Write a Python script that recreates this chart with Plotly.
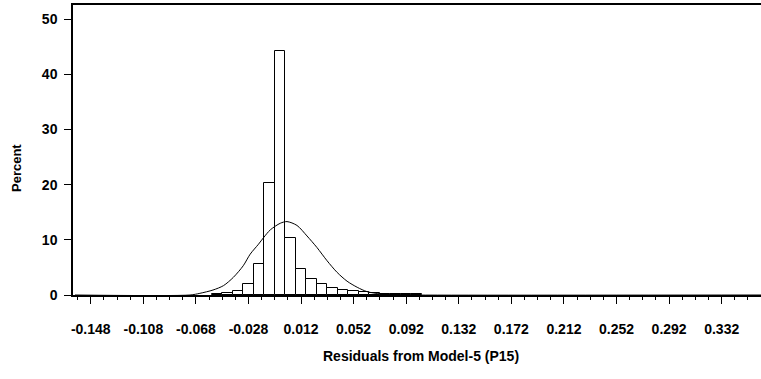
import plotly.graph_objects as go

# Histogram bins (midpoints) and percentages
bin_mid = [-0.052, -0.044, -0.036, -0.028, -0.020, -0.012, -0.004, 0.004, 0.012,
           0.020, 0.028, 0.036, 0.044, 0.052, 0.060, 0.068, 0.076, 0.084, 0.092, 0.100]
pct = [0.1, 0.3, 0.8, 2.0, 5.7, 20.3, 44.2, 10.4, 4.7,
       2.9, 2.0, 1.3, 0.9, 0.7, 0.5, 0.3, 0.2, 0.2, 0.2, 0.2]
bin_width = 0.008

# Fitted normal curve
curve_x = [-0.160, -0.0725, -0.065, -0.055, -0.047, -0.0395, -0.032, -0.0267, -0.0204,
           -0.0165, -0.0114, -0.0038, 0.0013, 0.0089, 0.0165, 0.0241, 0.0318,
           0.0394, 0.0470, 0.0547, 0.0623, 0.0725, 0.080, 0.090, 0.362]
curve_y = [0, 0, 0.3, 0.9, 1.7, 3.2, 5.3, 7.4, 9.2,
           10.4, 11.8, 13.0, 13.3, 12.6, 10.7, 8.6, 6.2,
           4.1, 2.5, 1.4, 0.6, 0.2, 0.05, 0, 0]

x_ticks = [-0.148, -0.108, -0.068, -0.028, 0.012, 0.052, 0.092, 0.132,
           0.172, 0.212, 0.252, 0.292, 0.332]
x_tick_text = ["-0.148", "-0.108", "-0.068", "-0.028", "0.012", "0.052", "0.092",
               "0.132", "0.172", "0.212", "0.252", "0.292", "0.332"]
y_ticks = [0, 10, 20, 30, 40, 50]

FONT = "Liberation Sans, Arial, sans-serif"

fig = go.Figure()
fig.add_trace(go.Bar(
    x=bin_mid, y=pct, width=bin_width,
    marker=dict(color="white", line=dict(color="black", width=1)),
    hoverinfo="x+y", showlegend=False,
))
fig.add_trace(go.Scatter(
    x=curve_x, y=curve_y, mode="lines",
    line=dict(color="black", width=1, shape="spline", smoothing=0.8),
    showlegend=False,
))

fig.update_layout(
    width=761, height=379,
    margin=dict(l=73, r=0, t=5, b=84),
    paper_bgcolor="white", plot_bgcolor="white",
    bargap=0,
    font=dict(family=FONT, size=14, color="black", weight="bold"),
    xaxis=dict(
        range=[-0.1615, 0.3619],
        tickmode="array", tickvals=x_ticks, ticktext=x_tick_text,
        ticks="outside", ticklen=7, tickwidth=1, tickcolor="black",
        minor=dict(tickmode="linear", tick0=-0.148, dtick=0.01, ticks="outside",
                   ticklen=3, tickwidth=1, tickcolor="black", showgrid=False),
        showline=True, linecolor="black", linewidth=1.5, mirror=True,
        showgrid=False, zeroline=False,
        ticklabelstandoff=13,
        tickfont=dict(family=FONT, size=14, color="black", weight="bold"),
    ),
    yaxis=dict(
        range=[0, 52.54],
        tickmode="array", tickvals=y_ticks,
        ticks="outside", ticklen=7, tickwidth=1, tickcolor="black",
        showline=True, linecolor="black", linewidth=1.5, mirror=False,
        showgrid=False, zeroline=False,
        ticklabelstandoff=4,
        tickfont=dict(family=FONT, size=14, color="black", weight="bold"),
    ),
    annotations=[
        dict(text="Residuals from Model-5 (P15)", xref="paper", yref="paper",
             x=(421 - 73) / 688, y=(295 - 356) / 290, xanchor="center", yanchor="middle",
             showarrow=False, font=dict(family=FONT, size=14, color="black", weight="bold")),
        dict(text="Percent", xref="paper", yref="paper", textangle=-90,
             x=(16 - 73) / 688, y=(295 - 168) / 290, xanchor="center", yanchor="middle",
             showarrow=False, font=dict(family=FONT, size=13, color="black", weight="bold")),
    ],
)

fig.write_html("out.html")
